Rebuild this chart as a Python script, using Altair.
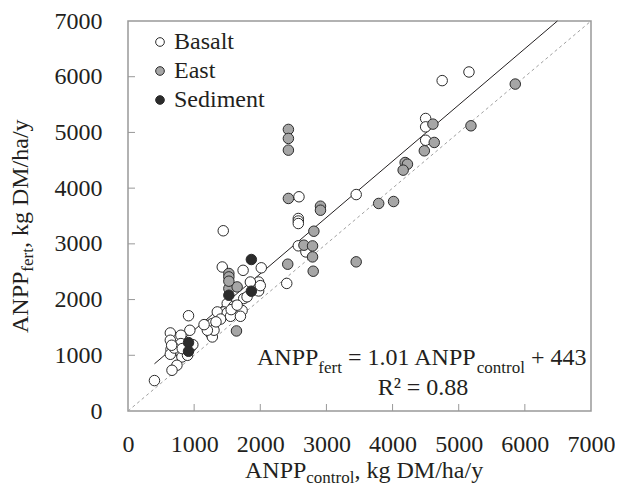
import altair as alt
import pandas as pd

FONT = "Liberation Serif"
TXT = "#231f20"

groups = ["Basalt", "East", "Sediment"]
group_fill = ["#ffffff", "#a6a6a6", "#2b2b2b"]

basalt_x = [4750, 5155, 4500, 4500, 4500, 3450, 2585, 2575, 2575, 2575, 1440, 2575, 2690,
            2400, 2015, 1740, 1975, 1975, 1425, 1850, 1750, 1725, 1500, 1450, 1350, 1500,
            1225, 1275, 1250, 1275, 915, 935, 640, 640, 800, 800, 650, 640, 800, 815, 740,
            665, 400, 950, 1550, 1600, 1700, 1400, 1300, 1200, 2000, 1560, 900, 700,
            660, 820, 980, 1150, 1330, 1650, 1800]
basalt_y = [5930, 6085, 5250, 5100, 4860, 3885, 3845, 3455, 3410, 3365, 3235, 2965, 2855,
            2290, 2570, 2525, 2315, 2155, 2585, 2315, 2019, 1804, 1929, 1778, 1778, 1760,
            1539, 1570, 1390, 1329, 1710, 1449, 1401, 1270, 1360, 1210, 1103, 1018, 1042,
            970, 821, 731, 546, 1150, 1700, 1880, 1700, 1650, 1450, 1450, 2250, 1820, 1000, 1130,
            1180, 1120, 1190, 1550, 1600, 1900, 2050]

east_x = [5855, 5185, 4610, 4630, 4480, 4190, 4225, 4160, 3790, 4015, 2425, 2425, 2425,
          2425, 2910, 2910, 2810, 2660, 2790, 2790, 2415, 2800, 3450, 1525, 1525, 1525,
          1650, 1640, 1525]
east_y = [5868, 5119, 5149, 4820, 4670, 4460, 4430, 4323, 3725, 3760, 5054, 4892, 4682,
          3815, 3676, 3604, 3227, 2976, 2963, 2766, 2635, 2509, 2677, 2468, 2407, 2198,
          2227, 1437, 2330]

sed_x = [1865, 1865, 1525, 915, 915]
sed_y = [2719, 2150, 2078, 1228, 1072]

tick_values = [0, 1000, 2000, 3000, 4000, 5000, 6000, 7000]
inner_ticks = [1000, 2000, 3000, 4000, 5000, 6000]
fit_slope = 1.01
fit_intercept = 443
fit_x = [400, (7000 - 443) / 1.01]
one_to_one = [0, 7000]

rows = []
for gi, (g, xs, ys) in enumerate(zip(groups, [basalt_x, east_x, sed_x], [basalt_y, east_y, sed_y])):
    for a, b in zip(xs, ys):
        rows.append({"x": a, "y": b, "group": g, "gidx": gi})
df = pd.DataFrame(rows)

xs_ = alt.Scale(domain=[0, 7000], nice=False, zero=False)
ys_ = alt.Scale(domain=[0, 7000], nice=False, zero=False)

x_axis = alt.Axis(values=tick_values, title=None, grid=False, ticks=False, tickSize=0,
                  domain=False, labelFont=FONT, labelFontSize=24, labelColor=TXT,
                  labelPadding=21, format="d", labelFlush=False)
y_axis = alt.Axis(values=tick_values, title=None, grid=False, ticks=False, tickSize=0,
                  domain=False, labelFont=FONT, labelFontSize=24, labelColor=TXT,
                  labelPadding=26, format="d", labelFlush=False)

one_df = pd.DataFrame({"x": one_to_one, "y": one_to_one})
diag = alt.Chart(one_df).mark_line(color="#a0a0a0", strokeWidth=1, strokeDash=[3, 3]).encode(
    x=alt.X("x:Q", scale=xs_, axis=x_axis), y=alt.Y("y:Q", scale=ys_, axis=y_axis))

fit_df = pd.DataFrame({"x": fit_x, "y": [fit_slope * v + fit_intercept for v in fit_x]})
fit = alt.Chart(fit_df).mark_line(color="#231f20", strokeWidth=1).encode(
    x=alt.X("x:Q", scale=xs_), y=alt.Y("y:Q", scale=ys_))

pts = alt.Chart(df).mark_circle(size=110, stroke="#2b2b2b", strokeWidth=1, opacity=1).encode(
    x=alt.X("x:Q", scale=xs_),
    y=alt.Y("y:Q", scale=ys_),
    fill=alt.Fill("group:N", scale=alt.Scale(domain=groups, range=group_fill),
                  legend=alt.Legend(title=None, orient="none", legendX=20, legendY=9,
                                    labelFont=FONT, labelFontSize=24, labelColor=TXT,
                                    symbolType="circle", symbolSize=75,
                                    symbolStrokeColor="#2b2b2b", symbolStrokeWidth=1,
                                    rowPadding=5, labelOffset=2, padding=0)),
    order=alt.Order("gidx:Q"),
)

tdf = pd.DataFrame({"v": inner_ticks})
yt = alt.Chart(tdf).mark_rule(color="#999999", strokeWidth=1).encode(
    y=alt.Y("v:Q", scale=ys_), x=alt.value(0), x2=alt.value(7))
xt = alt.Chart(tdf).mark_rule(color="#999999", strokeWidth=1).encode(
    x=alt.X("v:Q", scale=xs_), y=alt.value(390), y2=alt.value(383))


def txt(s, x, y, size=24, angle=0, align="left"):
    return alt.Chart(alt.Data(values=[{"t": s}])).mark_text(
        align=align, baseline="alphabetic", font=FONT, fontSize=size, angle=angle, color=TXT
    ).encode(text="t:N", x=alt.value(x), y=alt.value(y))


eq_parts = ["ANPP", "fert", "= 1.01 ANPP", "control", "+ 443"]
r2_text = "R² = 0.88"
xtitle_parts = ["ANPP", "control", ", kg DM/ha/y"]
ytitle_parts = ["ANPP", "fert", ", kg DM/ha/y"]

texts = [
    txt(eq_parts[0], 129, 344), txt(eq_parts[1], 190.3, 352, 17),
    txt(eq_parts[2], 220, 344), txt(eq_parts[3], 348.8, 352, 17),
    txt(eq_parts[4], 403, 344),
    txt(r2_text, 295, 374, align="center"),
    txt(xtitle_parts[0], 117, 457), txt(xtitle_parts[1], 178.3, 462, 17),
    txt(xtitle_parts[2], 226.5, 457),
    txt(ytitle_parts[0], -100, 312, angle=270), txt(ytitle_parts[1], -95, 250.7, 17, angle=270),
    txt(ytitle_parts[2], -100, 227.1, angle=270),
]

chart = alt.layer(diag, fit, yt, xt, pts, *texts).properties(
    width=463, height=390,
    autosize=alt.AutoSizeParams(type="none"),
    padding={"left": 120, "top": 13, "right": 24, "bottom": 76},
    background="white",
).configure(font=FONT).configure_view(stroke="#999999", strokeWidth=1.5)

chart.save("out.html", embed_options={"renderer": "svg", "actions": False})
